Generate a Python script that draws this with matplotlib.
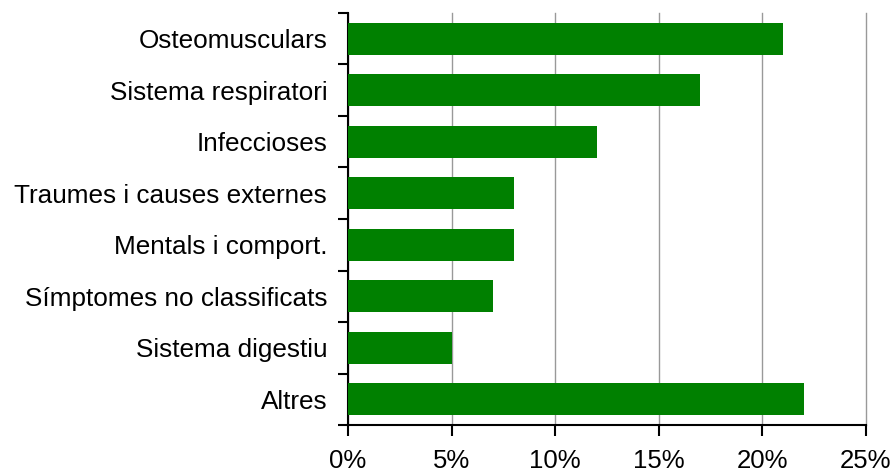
import matplotlib
matplotlib.use("Agg")
import matplotlib.pyplot as plt
from matplotlib.ticker import FixedLocator, NullFormatter

plt.rcParams['font.family'] = ['Liberation Sans', 'DejaVu Sans']

categories = ["Osteomusculars", "Sistema respiratori", "Infeccioses",
              "Traumes i causes externes", "Mentals i comport.",
              "Símptomes no classificats", "Sistema digestiu", "Altres"]
values = [21.0, 17.0, 12.0, 8.0, 8.0, 7.0, 5.0, 22.0]
xticks = [0, 5, 10, 15, 20, 25]
xticklabels = ["0%", "5%", "10%", "15%", "20%", "25%"]

fig = plt.figure(figsize=(8.93, 4.73), dpi=100)
ax = fig.add_axes([348/893, 1-425/473, (866-348)/893, (425-13)/473])

n = len(categories)
ypos = list(range(n))[::-1]
ax.barh(ypos, values, height=0.63, color="#008000", zorder=3)
ax.set_xlim(0, 25)
ax.set_ylim(-0.5, n - 0.5)

ax.set_xticks(xticks)
ax.set_xticklabels(xticklabels, fontsize=18.5)
ax.xaxis.grid(True, color="#999999", linewidth=1, zorder=0)
for gl in ax.get_xgridlines():
    gl.set_clip_on(False)

ax.set_yticks(ypos)
ax.set_yticklabels(categories, fontsize=18.8)
ax.tick_params(axis='y', which='major', length=0, pad=15)
ax.yaxis.set_minor_locator(FixedLocator([i - 0.5 for i in range(n + 1)]))
ax.yaxis.set_minor_formatter(NullFormatter())
ax.tick_params(axis='y', which='minor', length=7, width=1.5, color='black')
ax.tick_params(axis='x', which='major', length=8, width=1.5, pad=9)

for s in ['top', 'right']:
    ax.spines[s].set_visible(False)
ax.spines['left'].set_linewidth(1.5)
ax.spines['bottom'].set_linewidth(1.5)

fig.savefig("out.png", dpi=100)
